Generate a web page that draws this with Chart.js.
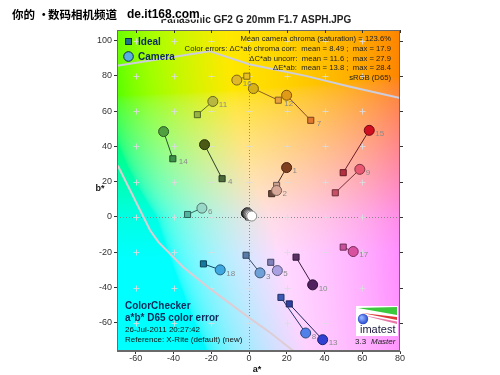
<!DOCTYPE html>
<html><head><meta charset="utf-8">
<script src="https://cdn.jsdelivr.net/npm/chart.js@4.4.0/dist/chart.umd.min.js"></script>
<style>html,body{margin:0;padding:0;background:#fff;}canvas{display:block;}</style>
</head><body>
<canvas id="c" width="500" height="375"></canvas>
<script>
// ---- data ----
const patches = [1,2,3,4,5,6,7,8,9,10,11,12,13,14,15,16,17,18,24,23,22,21,20,19];
const idealA  = [12.0,14.6,-1.6,-14.3,11.5,-32.6,32.7,16.9,45.7,24.9,-27.4,15.5,21.3,-40.4,49.9,-1.2,49.9,-24.2, -0.3,-0.2,0.0,0.1,0.2,0.3];
const idealB  = [13.2,17.9,-21.7,21.7,-25.7,1.4,54.8,-45.6,13.7,-22.8,58.0,66.2,-49.3,33.0,25.1,79.8,-17.1,-26.6, 0.2,0.1,0.0,0.0,-0.1,-0.2];
const cameraA = [19.9,14.6,5.8,-23.6,15.0,-25.0,19.9,30.0,58.7,33.7,-19.2,2.3,39.0,-45.3,63.7,-6.5,55.2,-15.3, -1.4,-1.0,-0.5,0.0,0.6,1.4];
const cameraB = [28.0,15.0,-31.7,41.0,-30.4,5.0,69.0,-65.8,27.0,-38.5,65.5,72.8,-69.6,48.4,49.1,77.6,-19.6,-30.0, 2.0,2.4,1.9,1.5,1.0,0.5];
const labelAt = ['c','c','c','i','c','c','i','c','c','c','c','i','c','i','c','c','c','c','','','','','',''];
const xTicks = [-60,-40,-20,0,20,40,60,80];
const yTicks = [-60,-40,-20,0,20,40,60,80,100];
const gamutUpperA = [-75,-70,-21,0,30,53,80,85];
const gamutUpperB = [84.5,85.7,94,86.6,80,74,67.5,66];
const gamutLowerA = [-72,-69.2,-52.4,-48,-34.8,-20.6,0.5,11.1,23.4,25];
const gamutLowerB = [32,28.3,-7.7,-14.3,-28.5,-40.8,-57.5,-65.5,-75.9,-78];
const statsLines = [
  'Mean camera chroma (saturation) = 123.6%',
  'Color errors: \u0394C*ab chroma corr:  mean = 8.49 ;  max = 17.9',
  '\u0394C*ab uncorr:  mean = 11.6 ;  max = 27.9',
  '\u0394E*ab:  mean = 13.8 ;  max = 28.4',
  'sRGB (D65)'
];
const infoLines = ['ColorChecker','a*b* D65 color error','26-Jul-2011 20:27:42','Reference: X-Rite (default) (new)'];
const titleText = 'Panasonic GF2 G 20mm F1.7 ASPH.JPG';
const watermarkParts = ['你的','•','数码相机频道','de.it168.com'];

// ---- styles ----
const idealColors = ['#6e4a3c','#c8a090','#5a7aa8','#4a6a3a','#8080b8','#50b4a0','#e07830','#3c5ab4','#c85064','#5a3064','#98b440','#e8a040','#3040a0','#3c9048','#b43040','#e8c020','#c8509c','#1478a0','#303030','#555555','#7a7a7a','#a0a0a0','#c8c8c8','#f0f0f0'];
const cameraColors = ['#804020','#d8a898','#70a0d8','#4a5a14','#a8a0e0','#98d8c8','#e09a18','#5080e8','#e85870','#502060','#b8b840','#d8b018','#3040d0','#50a040','#d01020','#e0b828','#d850a0','#40a8e0','#202020','#505050','#808080','#a8a8a8','#d0d0d0','#ffffff'];
function darker(hex, f){
  const n = parseInt(hex.slice(1),16);
  const r=(n>>16)&255,g=(n>>8)&255,b=n&255;
  return 'rgb('+Math.round(r*f)+','+Math.round(g*f)+','+Math.round(b*f)+')';
}
const FONT = '"Liberation Sans", Arial, sans-serif';

function labToRgb(L,a,b){
  const fy=(L+16)/116, fx=fy+a/500, fz=fy-b/200;
  const d=6/29;
  const finv=t=> t>d ? t*t*t : 3*d*d*(t-4/29);
  const X=0.95047*finv(fx), Y=finv(fy), Z=1.08883*finv(fz);
  const r=3.2406*X-1.5372*Y-0.4986*Z, g=-0.9689*X+1.8758*Y+0.0415*Z, bb=0.0557*X-0.2040*Y+1.0570*Z;
  const gam=v=>{v=Math.min(1,Math.max(0,v)); return v<=0.0031308?12.92*v:1.055*Math.pow(v,1/2.4)-0.055;};
  return [gam(r)*255,gam(g)*255,gam(bb)*255];
}

const bgPlugin = {
  id:'bg',
  beforeDraw(chart){
    const ctx=chart.ctx, ca=chart.chartArea, xs=chart.scales.x, ys=chart.scales.y;
    ctx.save(); ctx.fillStyle='#fff'; ctx.fillRect(0,0,chart.width,chart.height); ctx.restore();
    const w=Math.round(ca.right-ca.left), h=Math.round(ca.bottom-ca.top);
    const off=document.createElement('canvas'); off.width=w; off.height=h;
    const octx=off.getContext('2d'); const img=octx.createImageData(w,h);
    for(let j=0;j<h;j++){
      const b=ys.getValueForPixel(ca.top+j+0.5);
      const bb = b>0 ? b*1.25 : b*0.6;
      for(let i=0;i<w;i++){
        const a=xs.getValueForPixel(ca.left+i+0.5);
        const c=labToRgb(91,a*1.15,bb);
        const k=(j*w+i)*4;
        img.data[k]=c[0]; img.data[k+1]=c[1]; img.data[k+2]=c[2]; img.data[k+3]=255;
      }
    }
    octx.putImageData(img,0,0);
    ctx.drawImage(off,Math.round(ca.left),Math.round(ca.top));
  },
  beforeDatasetsDraw(chart){
    const ctx=chart.ctx, ca=chart.chartArea, xs=chart.scales.x, ys=chart.scales.y;
    ctx.save();
    ctx.beginPath(); ctx.rect(ca.left,ca.top,ca.right-ca.left,ca.bottom-ca.top); ctx.clip();
    ctx.strokeStyle='rgba(130,130,130,0.9)'; ctx.lineWidth=1; ctx.setLineDash([1,2]);
    const x0=Math.round(xs.getPixelForValue(0))+0.5, y0=Math.round(ys.getPixelForValue(0))+0.5;
    ctx.beginPath(); ctx.moveTo(x0,ca.top); ctx.lineTo(x0,ca.bottom); ctx.stroke();
    ctx.beginPath(); ctx.moveTo(ca.left,y0); ctx.lineTo(ca.right,y0); ctx.stroke();
    ctx.setLineDash([]);
    ctx.strokeStyle='rgba(220,220,225,0.85)';
    xTicks.forEach(a=>{ yTicks.forEach(b=>{
      const px=Math.round(xs.getPixelForValue(a))+0.5, py=Math.round(ys.getPixelForValue(b))+0.5;
      if(px>=ca.right-1||py<=ca.top+1) return;
      ctx.beginPath(); ctx.moveTo(px-3,py); ctx.lineTo(px+3,py); ctx.moveTo(px,py-3); ctx.lineTo(px,py+3); ctx.stroke();
    });});
    ctx.restore();
  },
  afterDatasetsDraw(chart){
    const ctx=chart.ctx, xs=chart.scales.x, ys=chart.scales.y;
    ctx.save();
    ctx.font='8px '+FONT; ctx.fillStyle='#8a8a8a'; ctx.textBaseline='middle'; ctx.textAlign='left';
    patches.forEach((p,i)=>{
      if(!labelAt[i]) return;
      const a = labelAt[i]==='c'?cameraA[i]:idealA[i];
      const b = labelAt[i]==='c'?cameraB[i]:idealB[i];
      ctx.fillText(String(p), xs.getPixelForValue(a)+6, ys.getPixelForValue(b)+3.5);
    });
    ctx.restore();
  },
  afterDraw(chart){
    const ctx=chart.ctx, ca=chart.chartArea, xs=chart.scales.x, ys=chart.scales.y;
    ctx.save();
    ctx.strokeStyle='#6a6a6a'; ctx.lineWidth=1;
    ctx.strokeRect(Math.round(ca.left)+0.5,Math.round(ca.top)+0.5,Math.round(ca.right-ca.left)-1,Math.round(ca.bottom-ca.top)-1);
    ctx.strokeStyle='#333';
    xTicks.forEach(a=>{const px=Math.round(xs.getPixelForValue(a))+0.5; ctx.beginPath(); ctx.moveTo(px,ca.top); ctx.lineTo(px,ca.top+3); ctx.stroke();});
    yTicks.forEach(b=>{const py=Math.round(ys.getPixelForValue(b))+0.5; ctx.beginPath(); ctx.moveTo(ca.right,py); ctx.lineTo(ca.right+3,py); ctx.stroke();});
    // title
    ctx.fillStyle='#222'; ctx.font='bold 10px '+FONT; ctx.textAlign='center'; ctx.textBaseline='middle';
    ctx.fillText(titleText,256,20);
    // axis titles
    ctx.font='bold 9px '+FONT; ctx.fillStyle='#111';
    ctx.fillText('a*',257,370);
    ctx.fillText('b*',100,189);
    // legend
    ctx.fillStyle='#1e6e8c'; ctx.strokeStyle='#0a2a44';
    ctx.fillRect(125,38,6.5,6.5); ctx.strokeRect(125.5,38.5,6,6);
    ctx.beginPath(); ctx.arc(128.5,56.5,4.8,0,Math.PI*2); ctx.fillStyle='#58aee0'; ctx.fill(); ctx.stroke();
    ctx.fillStyle='#0c2a5a'; ctx.font='bold 10px '+FONT; ctx.textAlign='left';
    ctx.fillText('Ideal',138,42); ctx.fillText('Camera',138,57);
    // stats
    ctx.font='7.7px '+FONT; ctx.fillStyle='#222'; ctx.textAlign='right';
    const sy=[39,49,58.5,68,77.5];
    statsLines.forEach((t,i)=>ctx.fillText(t,391,sy[i]));
    // info bottom-left
    ctx.textAlign='left'; ctx.fillStyle='#0c2a5a';
    ctx.font='bold 10px '+FONT; ctx.fillText(infoLines[0],125,306); ctx.fillText(infoLines[1],125,318.5);
    ctx.font='8px '+FONT; ctx.fillStyle='#111'; ctx.fillText(infoLines[2],125,330); ctx.fillText(infoLines[3],125,340);
    // logo
    ctx.fillStyle='#fff'; ctx.fillRect(356,306,42,30);
    ctx.fillStyle='#3cc83c'; ctx.beginPath(); ctx.moveTo(358,308); ctx.lineTo(397,307); ctx.lineTo(397,315); ctx.closePath(); ctx.fill();
    ctx.fillStyle='#e03838'; ctx.beginPath(); ctx.moveTo(362,313); ctx.lineTo(397,317); ctx.lineTo(397,320); ctx.closePath(); ctx.fill();
    ctx.fillStyle='#e878a8'; ctx.beginPath(); ctx.moveTo(362,315); ctx.lineTo(397,321.5); ctx.lineTo(397,324); ctx.closePath(); ctx.fill();
    const g=ctx.createRadialGradient(361.5,317.5,1,363,319,5.5); g.addColorStop(0,'#8fb0ff'); g.addColorStop(1,'#2040c8');
    ctx.fillStyle=g; ctx.beginPath(); ctx.arc(363,319,5.2,0,Math.PI*2); ctx.fill();
    ctx.fillStyle='#1a1a40'; ctx.font='11px '+FONT; ctx.textAlign='left'; ctx.fillText('imatest',360,330);
    ctx.font='8px '+FONT; ctx.fillStyle='#222'; ctx.fillText('3.3',355,342);
    ctx.font='italic 8px '+FONT; ctx.fillText('Master',371,342);
    // watermark
    ctx.lineJoin='round'; ctx.strokeStyle='#fff'; ctx.lineWidth=3; ctx.fillStyle='#000';
    const wmX=[12,38,48,127];
    watermarkParts.forEach((t,i)=>{
      ctx.font = (i===3?'bold 12px '+FONT:'bold 11.5px "Noto Sans CJK SC", sans-serif');
      ctx.strokeText(t,wmX[i],15); ctx.fillText(t,wmX[i],15);
    });
    ctx.restore();
  }
};

const datasets = [];
datasets.push({data:patches.map((p,i)=>({x:cameraA[i],y:cameraB[i]})), pointStyle:'circle', pointRadius:5, borderWidth:1,
  pointBackgroundColor:cameraColors, pointBorderColor:cameraColors.map(c=>darker(c,0.55)), showLine:false, order:0});
datasets.push({data:patches.map((p,i)=>({x:idealA[i],y:idealB[i]})), pointStyle:'rect', pointRadius:4.3, borderWidth:1,
  pointBackgroundColor:idealColors, pointBorderColor:idealColors.map(c=>darker(c,0.55)), showLine:false, order:1});
patches.forEach((p,i)=>{
  datasets.push({data:[{x:idealA[i],y:idealB[i]},{x:cameraA[i],y:cameraB[i]}], showLine:true, pointRadius:0, borderWidth:1,
    borderColor:darker(idealColors[i],0.6), order:2});
});
datasets.push({data:gamutUpperA.map((a,i)=>({x:a,y:gamutUpperB[i]})), showLine:true, pointRadius:0, borderWidth:2, borderColor:'rgba(205,205,222,1)', order:3});
datasets.push({data:gamutLowerA.map((a,i)=>({x:a,y:gamutLowerB[i]})), showLine:true, pointRadius:0, borderWidth:2, borderColor:'rgba(222,205,212,1)', order:3});

new Chart(document.getElementById('c'), {
  type:'scatter',
  data:{datasets},
  options:{
    responsive:false, animation:false, devicePixelRatio:1,
    layout:{padding:{top:30,right:100,left:0,bottom:0}},
    plugins:{legend:{display:false}, tooltip:{enabled:false}},
    scales:{
      x:{type:'linear', min:-70, max:80,
        afterBuildTicks:s=>{s.ticks=xTicks.map(v=>({value:v}));},
        afterFit:s=>{s.height=24;},
        grid:{drawOnChartArea:false, tickLength:3, color:'#333'},
        border:{display:true,color:'#6a6a6a'},
        ticks:{font:{family:FONT,size:9}, color:'#333', padding:-1, maxRotation:0, autoSkip:false}},
      y:{type:'linear', min:-76, max:106,
        afterBuildTicks:s=>{s.ticks=yTicks.map(v=>({value:v}));},
        afterFit:s=>{s.width=117;},
        grid:{drawOnChartArea:false, tickLength:3, color:'#333'},
        border:{display:true,color:'#6a6a6a'},
        ticks:{font:{family:FONT,size:9}, color:'#333', padding:2, autoSkip:false}}
    }
  },
  plugins:[bgPlugin]
});
</script>
</body></html>
